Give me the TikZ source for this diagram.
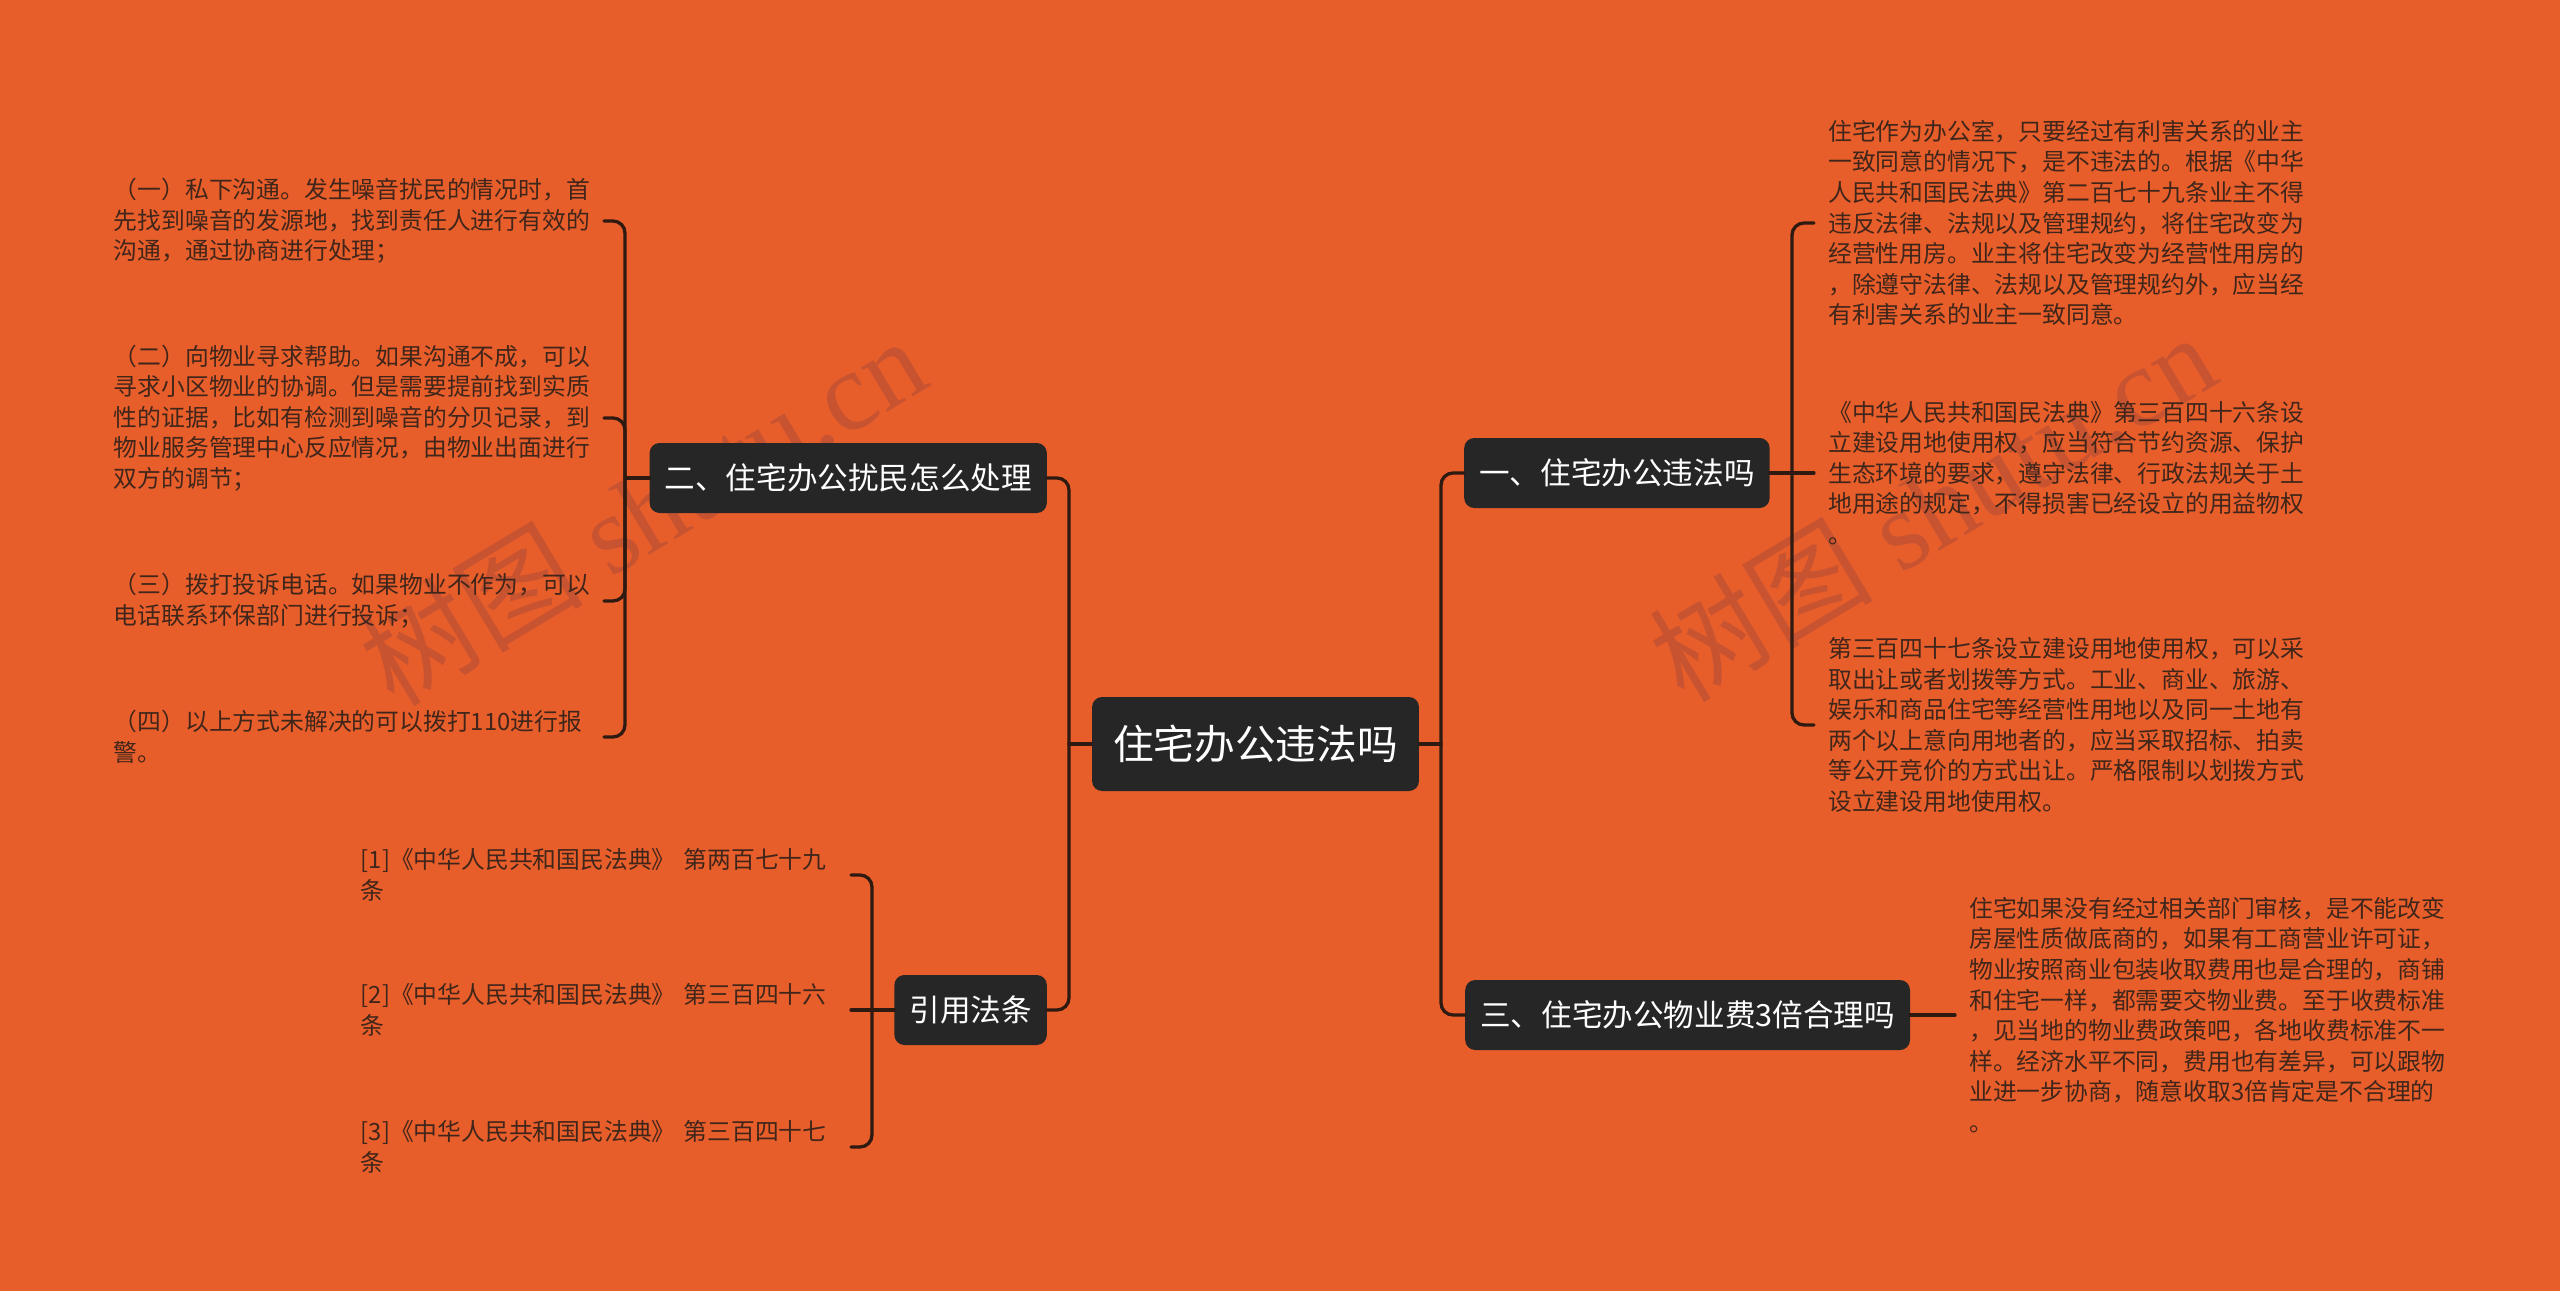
\documentclass[tikz,border=0pt]{standalone}
\usepackage{fontspec}
\usepackage{xcolor,tikz}
\newfontfamily\cjk{Noto Sans CJK SC}
\newfontfamily\wmserif{Liberation Serif}
\definecolor{mmBack}{HTML}{E85E2B}
\definecolor{mmBox}{HTML}{262626}
\definecolor{mmLine}{HTML}{2E1A10}
\definecolor{mmLeaf}{HTML}{40261A}
\definecolor{mmMark}{HTML}{C85331}
\tikzset{
 shutu/.style={line cap=round,line join=round},
 topic/.style={rectangle,rounded corners=10pt,fill=mmBox,text=white,
   font=\cjk\fontsize{30.6}{36}\selectfont,inner xsep=15pt,inner ysep=0pt,minimum height=70pt},
 roottopic/.style={topic,font=\cjk\fontsize{40.7}{48}\selectfont,inner xsep=21pt,minimum height=94pt},
 leaf/.style={text=mmLeaf,font=\cjk\fontsize{23.8}{30.6}\selectfont,align=left,
   text width=478pt,inner xsep=12pt,inner ysep=0pt},
 leafL/.style={leaf,anchor=east},
 leafR/.style={leaf,anchor=west,inner xsep=14pt},
 link/.style={draw=mmLine,line width=3.3pt,rounded corners=12pt},
 wmark/.style={text=mmMark,rotate=31,font=\wmserif\fontsize{112}{120}\selectfont,inner sep=0pt}
}

\begin{document}
\begin{tikzpicture}[shutu,x=1pt,y=-1pt]
 \fill[mmBack] (0,0) rectangle (2560,1291);
 \useasboundingbox (0,0) rectangle (2560,1291);
 \node[wmark] (wm1) at (642,510) {{\cjk 树图} shutu.cn};
 \node[wmark] (wm2) at (1932,506) {{\cjk 树图} shutu.cn};
 \node[roottopic] (root) at (1255.5,744) {住宅办公违法吗};
 \node[topic,anchor=east] (n2) at (1047,478) {二、住宅办公扰民怎么处理};
 \node[topic,anchor=east] (law) at (1047,1010) {引用法条};
 \node[topic,anchor=west] (n1) at (1464,473) {一、住宅办公违法吗};
 \node[topic,anchor=west] (n3) at (1465,1015) {三、住宅办公物业费3倍合理吗};
 \node[leafL] (p1) at (604,221) {（一）私下沟通。发生噪音扰民的情况时，首\\先找到噪音的发源地，找到责任人进行有效的\\沟通，通过协商进行处理；};
 \node[leafL] (p2) at (604,418) {（二）向物业寻求帮助。如果沟通不成，可以\\寻求小区物业的协调。但是需要提前找到实质\\性的证据，比如有检测到噪音的分贝记录，到\\物业服务管理中心反应情况，由物业出面进行\\双方的调节；};
 \node[leafL] (p3) at (604,601) {（三）拨打投诉电话。如果物业不作为，可以\\电话联系环保部门进行投诉；};
 \node[leafL] (p4) at (604,737) {（四）以上方式未解决的可以拨打110进行报\\警。};
 \node[leafL] (r1) at (851,875) {[1]《中华人民共和国民法典》 第两百七十九\\条};
 \node[leafL] (r2) at (851,1010) {[2]《中华人民共和国民法典》 第三百四十六\\条};
 \node[leafL] (r3) at (851,1147) {[3]《中华人民共和国民法典》 第三百四十七\\条};
 \node[leafR] (s1) at (1814,223) {住宅作为办公室，只要经过有利害关系的业主\\一致同意的情况下，是不违法的。根据《中华\\人民共和国民法典》第二百七十九条业主不得\\违反法律、法规以及管理规约，将住宅改变为\\经营性用房。业主将住宅改变为经营性用房的\\，除遵守法律、法规以及管理规约外，应当经\\有利害关系的业主一致同意。};
 \node[leafR] (s2) at (1814,473) {《中华人民共和国民法典》第三百四十六条设\\立建设用地使用权，应当符合节约资源、保护\\生态环境的要求，遵守法律、行政法规关于土\\地用途的规定，不得损害已经设立的用益物权\\。};
 \node[leafR] (s3) at (1814,725) {第三百四十七条设立建设用地使用权，可以采\\取出让或者划拨等方式。工业、商业、旅游、\\娱乐和商品住宅等经营性用地以及同一土地有\\两个以上意向用地者的，应当采取招标、拍卖\\等公开竞价的方式出让。严格限制以划拨方式\\设立建设用地使用权。};
 \node[leafR] (s4) at (1955,1015) {住宅如果没有经过相关部门审核，是不能改变\\房屋性质做底商的，如果有工商营业许可证，\\物业按照商业包装收取费用也是合理的，商铺\\和住宅一样，都需要交物业费。至于收费标准\\，见当地的物业费政策吧，各地收费标准不一\\样。经济水平不同，费用也有差异，可以跟物\\业进一步协商，随意收取3倍肯定是不合理的\\。};
 \coordinate (tl) at (1069,744); \coordinate (tr) at (1441,744);
 \coordinate (bl) at (625,478); \coordinate (blaw) at (872,1010);
 \coordinate (br) at (1792,473);
 \draw[link] (root.west) -- (tl);
 \draw[link] (tl) |- (n2.east);
 \draw[link] (tl) |- (law.east);
 \draw[link] (root.east) -- (tr);
 \draw[link] (tr) |- (n1.west);
 \draw[link] (tr) |- (n3.west);
 \draw[link] (n2.west) -- (bl);
 \foreach \p in {p1,p2,p3,p4} \draw[link] (bl) |- (\p.east);
 \draw[link] (law.west) -- (r2.east);
 \foreach \r in {r1,r3} \draw[link] (blaw) |- (\r.east);
 \draw[link] (n1.east) -- (s2.west);
 \foreach \s in {s1,s3} \draw[link] (br) |- (\s.west);
 \draw[link] (n3.east) -- (s4.west);
\end{tikzpicture}
\end{document}
